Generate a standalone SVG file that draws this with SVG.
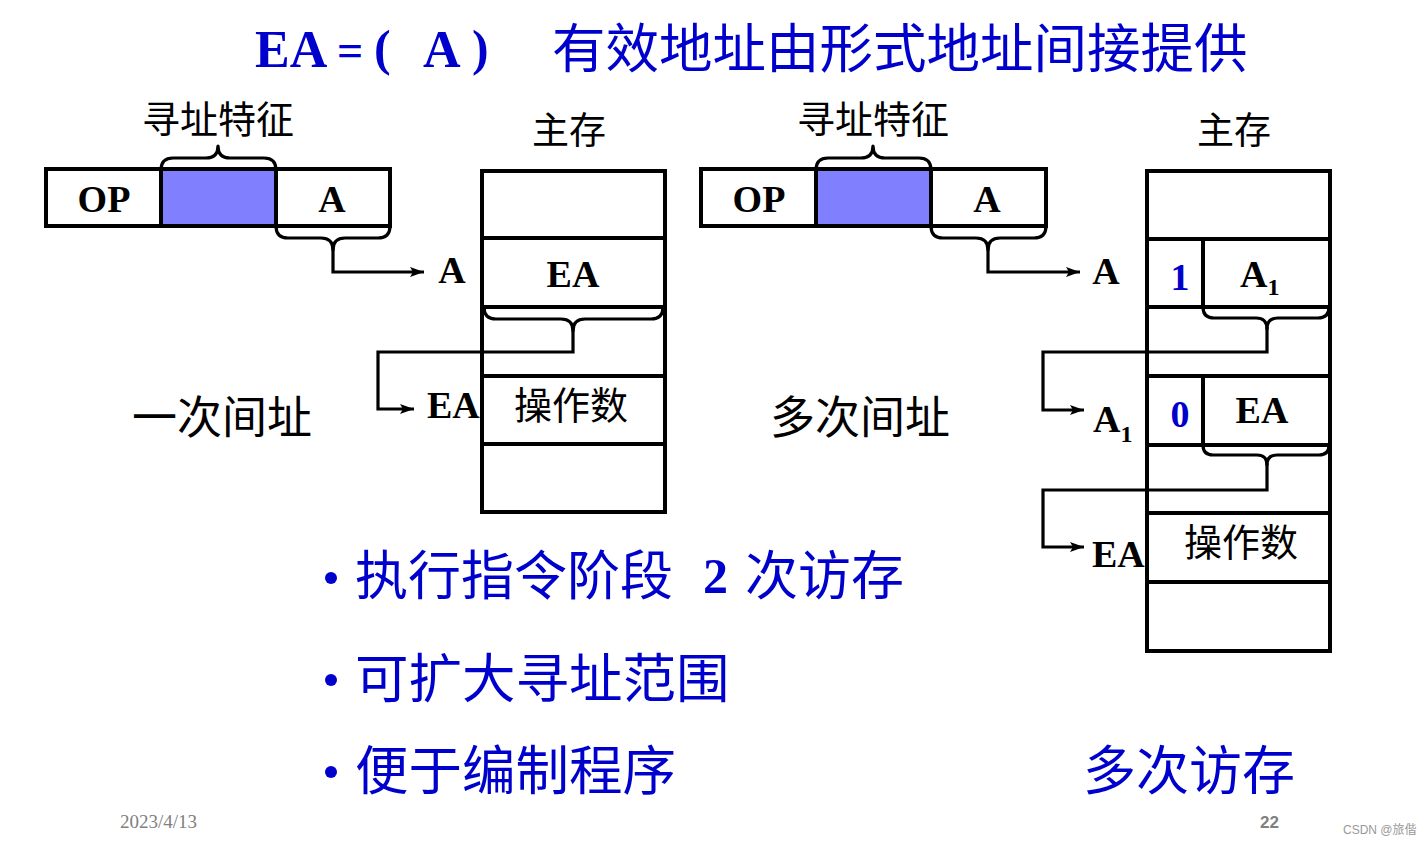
<svg xmlns="http://www.w3.org/2000/svg" width="1426" height="844" viewBox="0 0 1426 844">
<defs>
<marker id="ah" viewBox="0 0 14 10" refX="14" refY="5" markerWidth="14" markerHeight="10" markerUnits="userSpaceOnUse" orient="auto">
<path d="M0,0 L14,5 L0,10 L3,5 Z" fill="#000"/>
</marker>
<style>
.box{fill:#fff;stroke:#000;stroke-width:4}
.ln{fill:none;stroke:#000;stroke-width:4}
.br{fill:none;stroke:#000;stroke-width:3.2;stroke-linejoin:round}
.con{fill:none;stroke:#000;stroke-width:3.2;stroke-linejoin:miter}
.blue{fill:#8080ff;stroke:#000;stroke-width:4}
.lat{font-family:"Liberation Serif",serif;font-weight:bold;fill:#000}
.cjk{font-family:"Noto Sans CJK SC",sans-serif;fill:#000}
.bcjk{font-family:"Noto Sans CJK SC",sans-serif;fill:#0000cc}
.blat{font-family:"Liberation Serif",serif;font-weight:bold;fill:#0000cc}
</style>
</defs>
<rect width="1426" height="844" fill="#fff"/>

<g id="title">
<text class="blat" x="255" y="67" font-size="52">EA</text>
<text class="blat" x="337" y="66" font-size="46">=</text>
<text class="blat" x="374" y="65" font-size="50" font-weight="normal">(</text>
<text class="blat" x="423" y="67" font-size="52">A</text>
<text class="blat" x="472" y="65" font-size="50" font-weight="normal">)</text>
<text class="bcjk" x="552" y="68" font-size="53.5">有效地址由形式地址间接提供</text>
</g>

<g id="instr-left">
<rect class="box" x="46" y="169" width="115" height="57"/>
<rect class="blue" x="161" y="169" width="115" height="57"/>
<rect class="box" x="276" y="169" width="114" height="57"/>
<text class="lat" x="104" y="212" font-size="38" text-anchor="middle">OP</text>
<text class="lat" x="332" y="212" font-size="38" text-anchor="middle">A</text>
<text class="cjk" x="218" y="133" font-size="38" text-anchor="middle">寻址特征</text>
</g>

<g id="instr-right">
<rect class="box" x="701" y="169" width="115" height="57"/>
<rect class="blue" x="816" y="169" width="115" height="57"/>
<rect class="box" x="931" y="169" width="115" height="57"/>
<text class="lat" x="759" y="212" font-size="38" text-anchor="middle">OP</text>
<text class="lat" x="987" y="212" font-size="38" text-anchor="middle">A</text>
<text class="cjk" x="873" y="133" font-size="38" text-anchor="middle">寻址特征</text>
</g>

<g id="mem-left">
<rect class="box" x="482" y="171" width="183" height="341"/>
<line class="ln" x1="482" y1="238" x2="665" y2="238"/>
<line class="ln" x1="482" y1="307" x2="665" y2="307"/>
<line class="ln" x1="482" y1="376" x2="665" y2="376"/>
<line class="ln" x1="482" y1="444" x2="665" y2="444"/>
<text class="lat" x="573" y="287" font-size="38" text-anchor="middle">EA</text>
<text class="cjk" x="571" y="419" font-size="38" text-anchor="middle">操作数</text>
<text class="cjk" x="569" y="144" font-size="37" text-anchor="middle">主存</text>
</g>

<g id="mem-right">
<rect class="box" x="1147" y="171" width="183" height="480"/>
<line class="ln" x1="1147" y1="239" x2="1330" y2="239"/>
<line class="ln" x1="1147" y1="307" x2="1330" y2="307"/>
<line class="ln" x1="1147" y1="376" x2="1330" y2="376"/>
<line class="ln" x1="1147" y1="445" x2="1330" y2="445"/>
<line class="ln" x1="1147" y1="513" x2="1330" y2="513"/>
<line class="ln" x1="1147" y1="582" x2="1330" y2="582"/>
<line class="ln" x1="1203" y1="239" x2="1203" y2="307"/>
<line class="ln" x1="1203" y1="376" x2="1203" y2="445"/>
<text class="blat" x="1180" y="290" font-size="38" text-anchor="middle">1</text>
<text class="lat" x="1240" y="287" font-size="38">A<tspan font-size="24" dy="8">1</tspan></text>
<text class="blat" x="1180" y="427" font-size="38" text-anchor="middle">0</text>
<text class="lat" x="1262" y="423" font-size="38" text-anchor="middle">EA</text>
<text class="cjk" x="1241" y="556" font-size="38" text-anchor="middle">操作数</text>
<text class="cjk" x="1234" y="144" font-size="37" text-anchor="middle">主存</text>
</g>

<g id="labels">
<text class="lat" x="452" y="283" font-size="38" text-anchor="middle">A</text>
<text class="lat" x="427" y="418" font-size="38">EA</text>
<text class="lat" x="1106" y="284" font-size="38" text-anchor="middle">A</text>
<text class="lat" x="1093" y="432" font-size="38">A<tspan font-size="24" dy="10">1</tspan></text>
<text class="lat" x="1092" y="567" font-size="38">EA</text>
<text class="cjk" x="222" y="434" font-size="45" text-anchor="middle">一次间址</text>
<text class="cjk" x="860" y="434" font-size="45" text-anchor="middle">多次间址</text>
</g>

<g id="connectors">
<path class="br" d="M161,170 Q161,158 173,158 H206 Q218,158 218,146 Q218,158 230,158 H264 Q276,158 276,170"/>
<path class="br" d="M276,226 Q276,238 288,238 H321 Q333,238 333,250 Q333,238 345,238 H378 Q390,238 390,226"/>
<path class="con" d="M333,248 V272 H424" marker-end="url(#ah)"/>
<path class="br" d="M484,307 Q484,319 496,319 H561 Q573,319 573,331 Q573,319 585,319 H651 Q663,319 663,307"/>
<path class="con" d="M573,329 V352 H378 V409 H414" marker-end="url(#ah)"/>
<path class="br" d="M816,170 Q816,158 828,158 H861 Q873,158 873,146 Q873,158 885,158 H919 Q931,158 931,170"/>
<path class="br" d="M931,226 Q931,238 943,238 H976 Q988,238 988,250 Q988,238 1000,238 H1034 Q1046,238 1046,226"/>
<path class="con" d="M988,248 V272 H1080" marker-end="url(#ah)"/>
<path class="br" d="M1203,307 Q1203,318 1214,318 H1256 Q1267,318 1267,329 Q1267,318 1278,318 H1318 Q1329,318 1329,307"/>
<path class="con" d="M1267,327 V352 H1043 V410 H1084" marker-end="url(#ah)"/>
<path class="br" d="M1203,445 Q1203,455 1213,455 H1257 Q1267,455 1267,465 Q1267,455 1277,455 H1319 Q1329,455 1329,445"/>
<path class="con" d="M1267,463 V490 H1043 V547 H1084" marker-end="url(#ah)"/>
</g>

<g id="bullets">
<circle cx="331" cy="578" r="6" fill="#0000cc"/>
<text class="bcjk" x="355" y="595" font-size="53">执行指令阶段</text>
<text class="blat" x="703" y="593" font-size="50">2</text>
<text class="bcjk" x="745" y="595" font-size="53">次访存</text>
<circle cx="331" cy="680" r="6" fill="#0000cc"/>
<text class="bcjk" x="355" y="698" font-size="53.5">可扩大寻址范围</text>
<circle cx="331" cy="772" r="6" fill="#0000cc"/>
<text class="bcjk" x="355" y="790" font-size="53.5">便于编制程序</text>
<text class="bcjk" x="1083" y="790" font-size="53">多次访存</text>
</g>

<g id="footer">
<text x="120" y="828" font-size="19" font-family="Liberation Serif,serif" fill="#808080">2023/4/13</text>
<text x="1260" y="828" font-size="17" font-weight="bold" font-family="Liberation Sans,sans-serif" fill="#808080">22</text>
<text x="1343" y="834" font-size="12" font-family="Liberation Sans,Noto Sans CJK SC,sans-serif" fill="#999">CSDN @旅偕</text>
</g>
</svg>
